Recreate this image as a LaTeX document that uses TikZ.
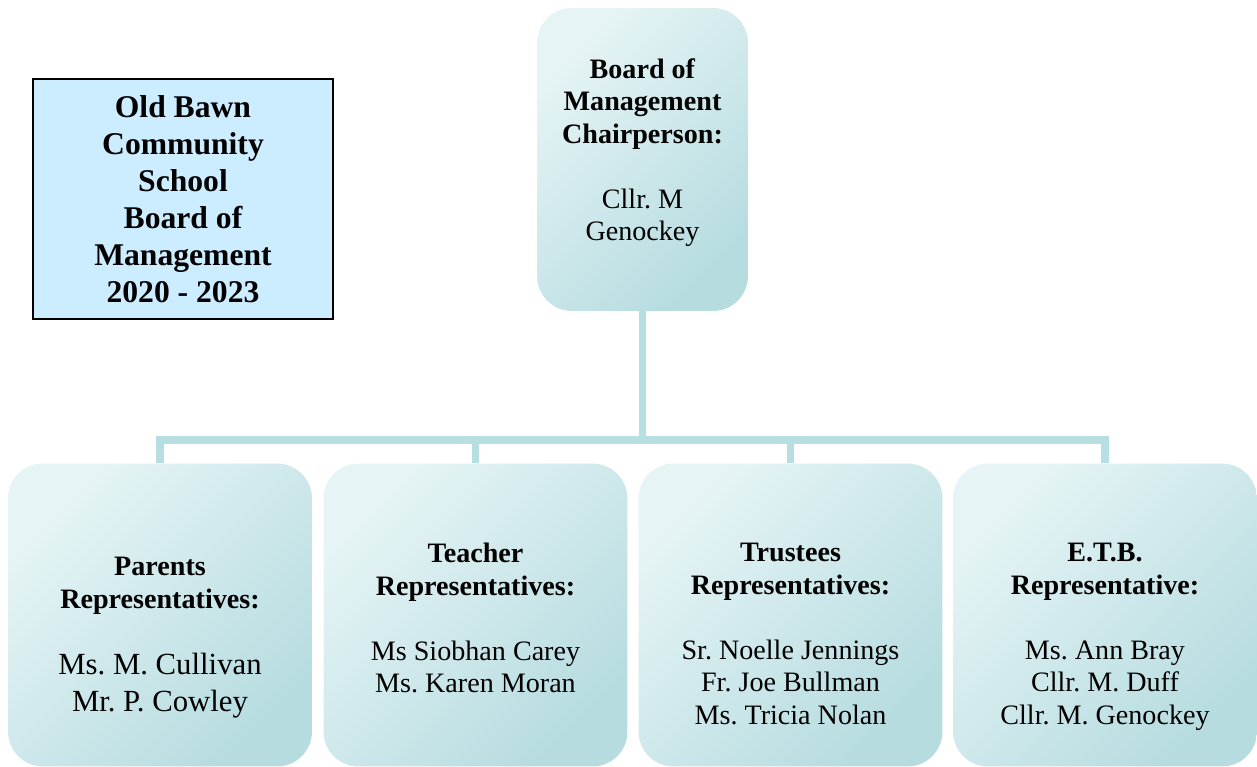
\documentclass[tikz,border=0pt]{standalone}
\usepackage{fontspec}
\setmainfont{Liberation Serif}
\frenchspacing
\definecolor{tituloazul}{HTML}{CCECFF}
\definecolor{cajaclara}{HTML}{E6F4F5}
\definecolor{cajaoscura}{HTML}{B6DCE0}
\definecolor{lineaazul}{HTML}{B7DEE1}

\begin{document}
\begin{tikzpicture}[x=0.02cm,y=-0.02cm,
    titulo/.style={draw=black,line width=0.8pt,fill=tituloazul,minimum width=6cm,
      minimum height=4.8cm,align=center,font=\bfseries\fontsize{18}{21}\selectfont},
    caja/.style={rounded corners=0.7cm,top color=cajaclara,bottom color=cajaoscura,
      shading angle=45,minimum width=6.08cm,minimum height=6.06cm,inner sep=0pt},
    texto/.style={anchor=north,inner sep=0pt,align=center,font=\fontsize{16}{18.5}\selectfont},
    enlace/.style={draw=lineaazul,line width=4.5pt}]
        % Fija el marco completo de la figura.
        \useasboundingbox (0,0) rectangle (1257,767);

        % Define el cuadro del titulo a la izquierda.
        \node[titulo] (titulo) at (183,199) {Old Bawn\\Community\\School\\Board of\\Management\\2020 - 2023};

        % Define la caja del presidente y las cuatro cajas de representantes.
        \node[caja,minimum width=4.22cm] (presidente) at (642.5,159.5) {};
        \node[caja] (padres) at (160,615) {};
        \node[caja] (profesores) at (475.5,615) {};
        \node[caja] (patronos) at (790.5,615) {};
        \node[caja] (etb) at (1105,615) {};

        % Une la caja del presidente con cada caja por la barra horizontal.
        \coordinate (barra) at (642.5,440);
        \draw[enlace] (presidente.south) -- (presidente.south |- barra) -| (padres.north);
        \draw[enlace] (presidente.south |- barra) -| (profesores.north);
        \draw[enlace] (presidente.south |- barra) -| (patronos.north);
        \draw[enlace] (presidente.south |- barra) -| (etb.north);

        % Escribe los textos de cada caja.
        \node[texto] (presidenteTxt) at (presidente.north |- 0,58)
          {\textbf{Board of}\\\textbf{Management}\\\textbf{Chairperson:}\\[18.5pt]Cllr. M\\Genockey};
        \node[texto] (padresTxt) at (padres.north |- 0,557)
          {\textbf{Parents}\\\textbf{Representatives:}\\[19pt]{\fontsize{17.5}{21}\selectfont Ms. M. Cullivan}\\[2.5pt]{\fontsize{17.5}{21}\selectfont Mr. P. Cowley}};
        \node[texto] (profesoresTxt) at (profesores.north |- 0,543)
          {\textbf{Teacher}\\\textbf{Representatives:}\\[18.5pt]Ms Siobhan Carey\\Ms. Karen Moran};
        \node[texto] (patronosTxt) at (patronos.north |- 0,543)
          {\textbf{Trustees}\\\textbf{Representatives:}\\[18.5pt]Sr. Noelle Jennings\\Fr. Joe Bullman\\Ms. Tricia Nolan};
        \node[texto] (etbTxt) at (etb.north |- 0,543)
          {\textbf{E.T.B.}\\\textbf{Representative:}\\[18.5pt]Ms. Ann Bray\\Cllr. M. Duff\\Cllr. M. Genockey};
    \end{tikzpicture}
\end{document}
